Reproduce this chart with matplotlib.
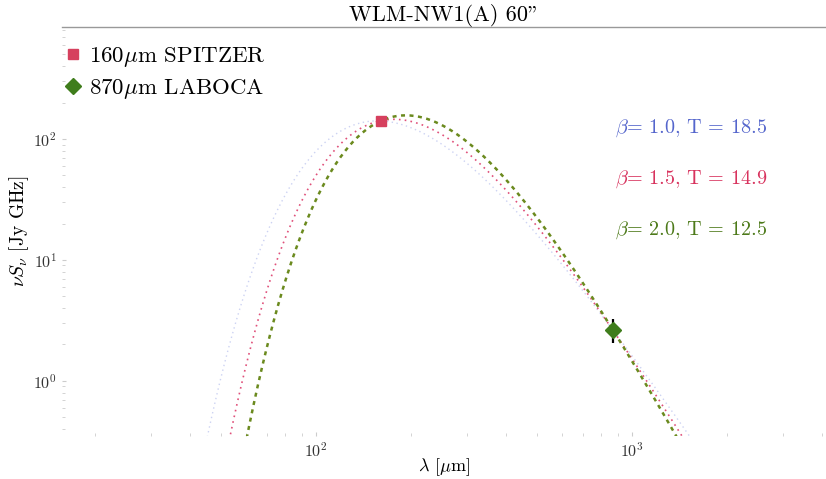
import numpy as np
import matplotlib
matplotlib.use("Agg")
import matplotlib.pyplot as plt
from matplotlib.lines import Line2D

plt.rcParams["font.family"] = ["cmr10", "DejaVu Serif"]
plt.rcParams["mathtext.fontset"] = "cm"
plt.rcParams["axes.formatter.use_mathtext"] = True

# Photometry
band_labels = [r"160$\mu$m SPITZER", r"870$\mu$m LABOCA"]
band_wavelengths = [160.0, 870.0]      # micron
band_nuSnu = [140.0, 2.65]              # Jy GHz
band_err = [0.0, 0.6]

# Modified blackbody fits
betas = [1.0, 1.5, 2.0]
temps = [18.5, 14.9, 12.5]
fit_colors = ["#9aa6e6", "#e0507a", "#6b8a1e"]
text_colors = ["#5566cc", "#d8335e", "#4d7a1a"]

HC_K = 14387.77  # micron K


def mbb_shape(lam, beta, T):
    nu = 1.0 / lam
    x = HC_K / (lam * T)
    return nu ** (beta + 4.0) / np.expm1(x)


fig = plt.figure(figsize=(8.26, 4.79), dpi=100)
ax = fig.add_axes([62 / 826, 43 / 479, 764 / 826, 409 / 479])

lam = np.logspace(1.0, 3.6, 600)
obs_l = np.array(band_wavelengths)
obs_f = np.array(band_nuSnu)
styles = [dict(ls=(0, (1, 2.5)), lw=1.0, alpha=0.5),
          dict(ls=(0, (1, 2.5)), lw=1.2),
          dict(ls=(0, (1.6, 1.8)), lw=1.8)]
for b, T, c, st in zip(betas, temps, fit_colors, styles):
    shape = mbb_shape(lam, b, T)
    amp = np.exp(np.mean(np.log(obs_f / mbb_shape(obs_l, b, T))))
    ax.plot(lam, amp * shape, color=c, zorder=2, **st)

marker_colors = ["#d6405e", "#3f7d1c"]
marker_shapes = ["s", "D"]
marker_sizes = [7, 8]
for l, f, e, mc, mk, ms in zip(band_wavelengths, band_nuSnu, band_err,
                               marker_colors, marker_shapes, marker_sizes):
    ax.errorbar(l, f, yerr=e, fmt=mk, color=mc, ecolor="black",
                elinewidth=1.6, ms=ms, zorder=4)

handles = [Line2D([], [], ls="none", marker=mk, color=mc, ms=ms)
           for mc, mk, ms in zip(marker_colors, marker_shapes, marker_sizes)]
ax.legend(handles, band_labels, loc="upper left",
          bbox_to_anchor=(-0.025, 1.0), frameon=False, fontsize=16.5,
          handletextpad=0.2, handlelength=1.0, borderaxespad=0.4,
          labelspacing=0.35)

for i, (b, T, c) in enumerate(zip(betas, temps, text_colors)):
    ax.text(0.724, 0.752 - i * 0.125, rf"$\beta$= {b:.1f}, T = {T:.1f}",
            transform=ax.transAxes, color=c, fontsize=14.5, va="center")

ax.set_xscale("log")
ax.set_yscale("log")
ax.set_xlim(15.7, 4110)
ax.set_ylim(0.35, 843)

ax.set_title("WLM-NW1(A) 60\"", fontsize=16, pad=3)
ax.set_xlabel(r"$\lambda$ [$\mu$m]", fontsize=13)
ax.xaxis.set_label_coords(0.5, -0.05)
ax.set_ylabel(r"$\nu S_\nu$ [Jy GHz]", fontsize=14, labelpad=2)

for side in ["left", "right", "bottom"]:
    ax.spines[side].set_visible(False)
ax.spines["top"].set_color("#999999")
ax.spines["top"].set_linewidth(1.0)
ax.tick_params(which="both", colors="#cccccc", labelcolor="#333333",
               labelsize=11.5, direction="in", top=False, right=False)
ax.tick_params(which="major", length=3)
ax.tick_params(which="minor", length=2)

fig.savefig("out.png", dpi=100, facecolor="white")
